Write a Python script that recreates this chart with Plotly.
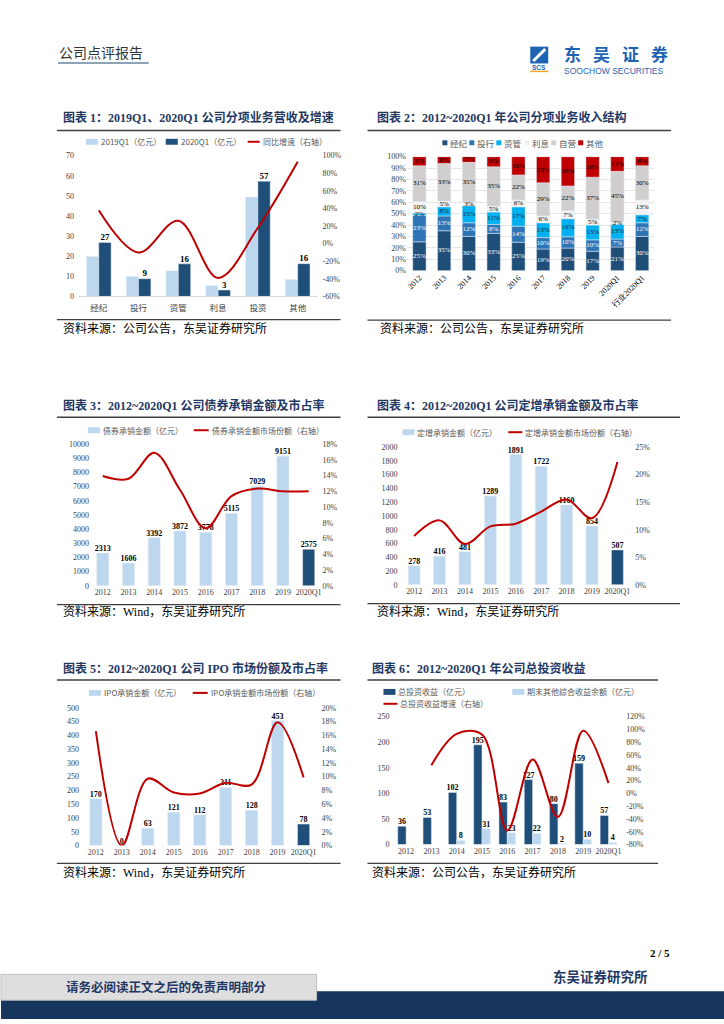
import plotly.graph_objects as go

W, H = 724, 1024


def px(x):
    return x / W


def py(y):
    return 1 - y / H


# ---------------- data ----------------
c1_cats = ["经纪", "投行", "资管", "利息", "投资", "其他"]
c1_2019q1 = [19.8, 9.9, 12.8, 5.3, 49.4, 8.4]
c1_2020q1 = [26.8, 8.8, 16.2, 3.2, 57.3, 16.3]
c1_growth = [0.38, -0.10, 0.26, -0.39, 0.18, 0.93]
c1_right_ticks = [-0.6, -0.4, -0.2, 0.0, 0.2, 0.4, 0.6, 0.8, 1.0]

c2_cats = ["2012", "2013", "2014", "2015", "2016", "2017", "2018", "2019", "2020Q1", "行业2020Q1"]
c2_jingji = [25, 35, 30, 33, 25, 19, 20, 17, 21, 30]
c2_touhang = [23, 13, 12, 8, 14, 10, 10, 10, 7, 12]
c2_ziguan = [2, 8, 15, 11, 17, 13, 16, 13, 13, 7]
c2_lixi = [10, 5, 3, 5, 6, 6, 7, 5, 2, 13]
c2_ziying = [31, 33, 35, 35, 22, 29, 22, 37, 45, 30]
c2_qita = [8, 6, 5, 9, 16, 23, 26, 18, 13, 8]
c2_names = ["经纪", "投行", "资管", "利息", "自营", "其他"]

years = ["2012", "2013", "2014", "2015", "2016", "2017", "2018", "2019", "2020Q1"]

c3_amount = [2313, 1606, 3392, 3872, 3778, 5115, 7029, 9151, 2575]
c3_share = [0.1395, 0.136, 0.169, 0.122, 0.073, 0.114, 0.1235, 0.120, 0.120]

c4_amount = [278, 416, 481, 1289, 1891, 1722, 1160, 854, 507]
c4_share = [0.0885, 0.117, 0.074, 0.106, 0.111, 0.133, 0.155, 0.121, 0.223]

c5_amount = [170, 0, 63, 121, 112, 211, 128, 453, 78]
c5_share = [0.166, 0.0, 0.097, 0.077, 0.0755, 0.091, 0.0885, 0.179, 0.099]

c6_invest = [36, 53, 102, 195, 83, 127, 80, 159, 57]
c6_oci = [None, None, 8, 31, 23, 22, 2, 10, 4]
c6_growth = [None, 0.44, 0.93, 0.92, -0.58, 0.53, -0.37, 0.98, 0.16]
c6_right_ticks = [-0.8, -0.6, -0.4, -0.2, 0.0, 0.2, 0.4, 0.6, 0.8, 1.0, 1.2]

# ---------------- styles ----------------
LIGHT = "#BDD7EE"
DARK = "#1F4E79"
RED = "#C00000"
NAVY = "#1F3864"
TICK = "#404040"
SERIF = "Liberation Serif, Times New Roman, Noto Sans CJK SC, serif"
CJK = "Noto Sans CJK SC, sans-serif"
c2_colors = ["#1F4E79", "#2E75B6", "#00B0F0", "#F2F2F2", "#D0CECE", "#C00000"]
c2_textcolors = ["#FFFFFF", "#FFFFFF", "#1F1F1F", "#000000", "#000000", "#000000"]

fig = go.Figure()
shapes = []
annotations = []


def add_text(x, y, text, size, color="#000000", family=CJK, xanchor="left", bold=False):
    annotations.append(dict(
        xref="paper", yref="paper", x=px(x), y=py(y), text=text, showarrow=False,
        xanchor=xanchor, yanchor="middle",
        font=dict(size=size, color=color, family=family, weight="bold" if bold else "normal")))


def add_line(x0, y0, x1, y1, color, width):
    shapes.append(dict(type="line", xref="paper", yref="paper", x0=px(x0), y0=py(y0),
                       x1=px(x1), y1=py(y1), line=dict(color=color, width=width)))


def add_rect(x0, y0, x1, y1, fill, lw=0, lc=None):
    shapes.append(dict(type="rect", xref="paper", yref="paper", x0=px(x0), y0=py(y0),
                       x1=px(x1), y1=py(y1), fillcolor=fill,
                       line=dict(width=lw, color=lc or fill)))


def legend_item(kind, color, text, x, y, size=8, w=12, h=6):
    if kind == "rect":
        add_rect(x, y - h / 2, x + w, y + h / 2, color)
    else:
        add_line(x, y, x + w, y, color, 2)
    add_text(x + w + 1, y, text, size, "#595959")


def frame(title, tx, ty, ux0, ux1, uy, sy, source, sx, sty):
    add_text(tx, ty, title, 12, NAVY, SERIF, bold=True)
    add_line(ux0, uy, ux1, uy, "#3F3F3F", 1.5)
    add_line(ux0, sy, ux1, sy, "#3F3F3F", 1.2)
    add_text(sx, sty, source, 12, "#000000", SERIF)


def xaxis_cfg(d0, d1, cats, anchor, **kw):
    d = dict(domain=[px(d0), px(d1)], anchor=anchor, range=[-0.5, len(cats) - 0.5],
             tickmode="array", tickvals=list(range(len(cats))), ticktext=cats,
             showgrid=False, zeroline=False, showline=False, ticks="",
             tickfont=dict(family=SERIF, size=8, color=TICK), fixedrange=True)
    d.update(kw)
    return d


def yaxis_cfg(top, bottom, anchor, rng, dtick, **kw):
    d = dict(domain=[py(bottom), py(top)], anchor=anchor, range=rng, dtick=dtick,
             tick0=rng[0], showgrid=False, zeroline=False, showline=False, ticks="",
             tickfont=dict(family=SERIF, size=8, color=TICK), fixedrange=True)
    d.update(kw)
    return d


def pct_ticks(vals):
    return dict(tickmode="array", tickvals=vals, ticktext=[f"{round(v * 100)}%" for v in vals])


def label_font(size=8):
    return dict(family=SERIF, size=size, color="#000000", weight="bold")


# ---------------- chart 1 ----------------
x1 = list(range(len(c1_cats)))
fig.add_trace(go.Bar(x=x1, y=c1_2019q1, width=0.31, offset=-0.31, marker_color=LIGHT,
                     name="2019Q1（亿元）", xaxis="x", yaxis="y"))
fig.add_trace(go.Bar(x=x1, y=c1_2020q1, width=0.31, offset=0.0, marker_color=DARK,
                     name="2020Q1（亿元）", xaxis="x", yaxis="y"))
fig.add_trace(go.Scatter(x=[i + 0.155 for i in x1], y=c1_2020q1, mode="text",
                         text=[f"{v:.0f}" for v in c1_2020q1], textposition="top center",
                         textfont=label_font(9), xaxis="x", yaxis="y"))
fig.add_trace(go.Scatter(x=x1, y=c1_growth, mode="lines", name="同比增速（右轴）",
                         line=dict(color=RED, width=2, shape="spline"), xaxis="x", yaxis="y2"))

# ---------------- chart 2 ----------------
x2 = list(range(len(c2_cats)))
series2 = [c2_jingji, c2_touhang, c2_ziguan, c2_lixi, c2_ziying, c2_qita]
totals = [sum(s[i] for s in series2) for i in x2]
base = [0.0] * len(x2)
for s, name, col, tcol in zip(series2, c2_names, c2_colors, c2_textcolors):
    hgt = [s[i] / totals[i] * 100 for i in x2]
    fig.add_trace(go.Bar(x=x2, y=hgt, base=list(base), width=0.54, offset=-0.27,
                         marker_color=col, name=name, xaxis="x2", yaxis="y3"))
    fig.add_trace(go.Scatter(x=x2, y=[base[i] + hgt[i] / 2 for i in x2], mode="text",
                             text=[f"{v}%" for v in s], textposition="middle center",
                             textfont=dict(family=SERIF, size=7, color=tcol),
                             xaxis="x2", yaxis="y3"))
    base = [base[i] + hgt[i] for i in x2]


# ---------------- charts 3-5 ----------------
def single_chart(amount, share, xa, ya, yb, name_bar, name_line):
    xs = list(range(len(years)))
    colors = [LIGHT] * (len(years) - 1) + [DARK]
    fig.add_trace(go.Bar(x=xs, y=amount, width=0.47, offset=-0.235, marker_color=colors,
                         name=name_bar, xaxis=xa, yaxis=ya))
    fig.add_trace(go.Scatter(x=xs, y=amount, mode="text", text=[f"{v}" for v in amount],
                             textposition="top center", textfont=label_font(8),
                             xaxis=xa, yaxis=ya))
    fig.add_trace(go.Scatter(x=xs, y=share, mode="lines", name=name_line,
                             line=dict(color=RED, width=2, shape="spline"),
                             xaxis=xa, yaxis=yb))


single_chart(c3_amount, c3_share, "x3", "y4", "y5", "债券承销金额（亿元）", "债券承销金额市场份额（右轴）")
single_chart(c4_amount, c4_share, "x4", "y6", "y7", "定增承销金额（亿元）", "定增承销金额市场份额（右轴）")
single_chart(c5_amount, c5_share, "x5", "y8", "y9", "IPO承销金额（亿元）", "IPO承销金额市场份额（右轴）")

# ---------------- chart 6 ----------------
x6 = list(range(len(years)))
fig.add_trace(go.Bar(x=x6, y=c6_invest, width=0.33, offset=-0.33, marker_color=DARK,
                     name="总投资收益（亿元）", xaxis="x6", yaxis="y10"))
fig.add_trace(go.Bar(x=x6, y=c6_oci, width=0.33, offset=0.0, marker_color=LIGHT,
                     name="期末其他综合收益余额（亿元）", xaxis="x6", yaxis="y10"))
fig.add_trace(go.Scatter(x=[i - 0.165 for i in x6], y=c6_invest, mode="text",
                         text=[f"{v}" for v in c6_invest], textposition="top center",
                         textfont=label_font(8), xaxis="x6", yaxis="y10"))
fig.add_trace(go.Scatter(x=[i + 0.165 for i in x6], y=c6_oci, mode="text",
                         text=["" if v is None else f"{v}" for v in c6_oci],
                         textposition="top center", textfont=label_font(8),
                         xaxis="x6", yaxis="y10"))
fig.add_trace(go.Scatter(x=x6, y=c6_growth, mode="lines", name="总投资收益增速（右轴）",
                         line=dict(color=RED, width=2, shape="spline"),
                         xaxis="x6", yaxis="y11"))

# ---------------- axes ----------------
pct = dict(tickformat=".0%")
layout_axes = dict(
    xaxis=xaxis_cfg(78, 317, c1_cats, "y", showline=True, linecolor="#D9D9D9", linewidth=1,
                    tickfont=dict(family=CJK, size=8.5, color=TICK), ticklabelstandoff=3),
    yaxis=yaxis_cfg(153, 295, "x", [0, 70], 10, ticklabelstandoff=4),
    yaxis2=yaxis_cfg(153, 295, "x", [-0.6, 1.0], 0.2, overlaying="y", side="right",
                     ticklabelstandoff=4, **pct_ticks(c1_right_ticks)),
    xaxis2=xaxis_cfg(406.6, 654.4, c2_cats, "y3", tickangle=-45,
                     tickfont=dict(family=SERIF, size=8, color="#000000")),
    yaxis3=yaxis_cfg(154, 269, "x2", [0, 100], 10, ticksuffix="%", showgrid=True,
                     gridcolor="#E6E6E6", gridwidth=1),
    xaxis3=xaxis_cfg(89, 321, years, "y4"),
    yaxis4=yaxis_cfg(444, 587, "x3", [0, 10000], 1000, tickformat="d"),
    yaxis5=yaxis_cfg(444, 587, "x3", [0, 0.18], 0.02, overlaying="y4", side="right", **pct),
    xaxis4=xaxis_cfg(401, 630, years, "y6"),
    yaxis6=yaxis_cfg(447, 586, "x4", [0, 2000], 200, ticklabelstandoff=3, tickformat="d"),
    yaxis7=yaxis_cfg(447, 586, "x4", [0, 0.25], 0.05, overlaying="y6", side="right",
                     ticklabelstandoff=4, **pct),
    xaxis5=xaxis_cfg(82, 316, years, "y8"),
    yaxis8=yaxis_cfg(710, 849, "x5", [0, 500], 50, ticklabelstandoff=3, tickformat="d"),
    yaxis9=yaxis_cfg(710, 849, "x5", [0, 0.20], 0.02, overlaying="y8", side="right",
                     ticklabelstandoff=4, **pct),
    xaxis6=xaxis_cfg(393, 621, years, "y10"),
    yaxis10=yaxis_cfg(719, 848, "x6", [0, 250], 50, ticklabelstandoff=3, tickformat="d"),
    yaxis11=yaxis_cfg(719, 848, "x6", [-0.8, 1.2], 0.2, overlaying="y10", side="right",
                      ticklabelstandoff=4, **pct_ticks(c6_right_ticks)),
)

# ---------------- frames ----------------
frame("图表 1：2019Q1、2020Q1 公司分项业务营收及增速", 60, 115, 56, 340, 127.5, 318.5,
      "资料来源：公司公告，东吴证券研究所", 60, 327)
frame("图表 2：2012~2020Q1 年公司分项业务收入结构", 375, 115, 367, 671, 127.5, 319,
      "资料来源：公司公告，东吴证券研究所", 378, 327)
frame("图表 3：2012~2020Q1 公司债券承销金额及市占率", 60, 405, 56, 340, 417, 606,
      "资料来源：Wind，东吴证券研究所", 60, 613)
frame("图表 4：2012~2020Q1 公司定增承销金额及市占率", 375, 405, 367, 680, 417, 605,
      "资料来源：Wind，东吴证券研究所", 375, 613)
frame("图表 5：2012~2020Q1 公司 IPO 市场份额及市占率", 60, 670, 56, 340, 682, 867,
      "资料来源：Wind，东吴证券研究所", 60, 876)
frame("图表 6：2012~2020Q1 年公司总投资收益", 370, 670, 367, 658, 682, 867,
      "资料来源：公司公告，东吴证券研究所", 370, 876)

# ---------------- legends ----------------
legend_item("rect", LIGHT, "2019Q1（亿元）", 85, 139)
legend_item("rect", DARK, "2020Q1（亿元）", 165, 139)
legend_item("line", RED, "同比增速（右轴）", 247, 139)

for name, col, lx in zip(c2_names, c2_colors, [442, 469, 496, 524, 551, 578]):
    legend_item("rect", col, name, lx, 140, size=8.5, w=5, h=5)

legend_item("rect", LIGHT, "债券承销金额（亿元）", 87, 430)
legend_item("line", RED, "债券承销金额市场份额（右轴）", 193, 430, w=15)
legend_item("rect", LIGHT, "定增承销金额（亿元）", 402, 432)
legend_item("line", RED, "定增承销金额市场份额（右轴）", 508, 432, w=14)
legend_item("rect", LIGHT, "IPO承销金额（亿元）", 88, 695)
legend_item("line", RED, "IPO承销金额市场份额（右轴）", 192, 695, w=15)
legend_item("rect", DARK, "总投资收益（亿元）", 383, 694)
legend_item("rect", LIGHT, "期末其他综合收益余额（亿元）", 512, 694)
legend_item("line", RED, "总投资收益增速（右轴）", 383, 706, w=14)

# ---------------- header ----------------
add_text(56, 50, "公司点评报告", 14, "#333333", SERIF)
add_line(57, 59.5, 148, 59.5, "#8EA2B8", 2)
add_rect(530, 43, 548, 60, "#1D63B3")
add_line(533, 57.5, 545, 45.5, "#FFFFFF", 3)
add_text(539, 64.5, "SCS", 6.5, "#1D63B3", "Liberation Sans, sans-serif", xanchor="center", bold=True)
add_line(530, 68, 548, 68, "#F5A623", 1.5)
add_text(562, 49.5, '<span style="letter-spacing:12px">东吴证券</span>', 17, "#1D63B3", CJK, bold=True)
add_text(562, 67.5, "SOOCHOW SECURITIES", 8.5, "#1D63B3", "Liberation Sans, Arial, sans-serif")

# ---------------- footer ----------------
add_text(672, 957, "2 / 5", 11, "#000000", SERIF, xanchor="right", bold=True)
add_text(551, 982, "东吴证券研究所", 13.5, NAVY, SERIF, bold=True)
add_rect(0, 996, 724, 1024, "#17365D")
add_rect(0, 979, 316, 1005, "#DEDEDE", lw=1, lc="#BFBFBF")
add_text(166, 992, "请务必阅读正文之后的免责声明部分", 12.5, NAVY, SERIF, xanchor="center", bold=True)

fig.update_layout(
    width=W, height=H, autosize=False, margin=dict(l=0, r=0, t=0, b=0),
    paper_bgcolor="white", plot_bgcolor="rgba(0,0,0,0)", barmode="overlay",
    showlegend=False, shapes=shapes, annotations=annotations,
    font=dict(family=SERIF, color=TICK),
    **layout_axes,
)

fig.write_html("out.html", config={"displayModeBar": False},
               post_script="document.body.style.margin='0px';document.body.style.padding='0px';")
